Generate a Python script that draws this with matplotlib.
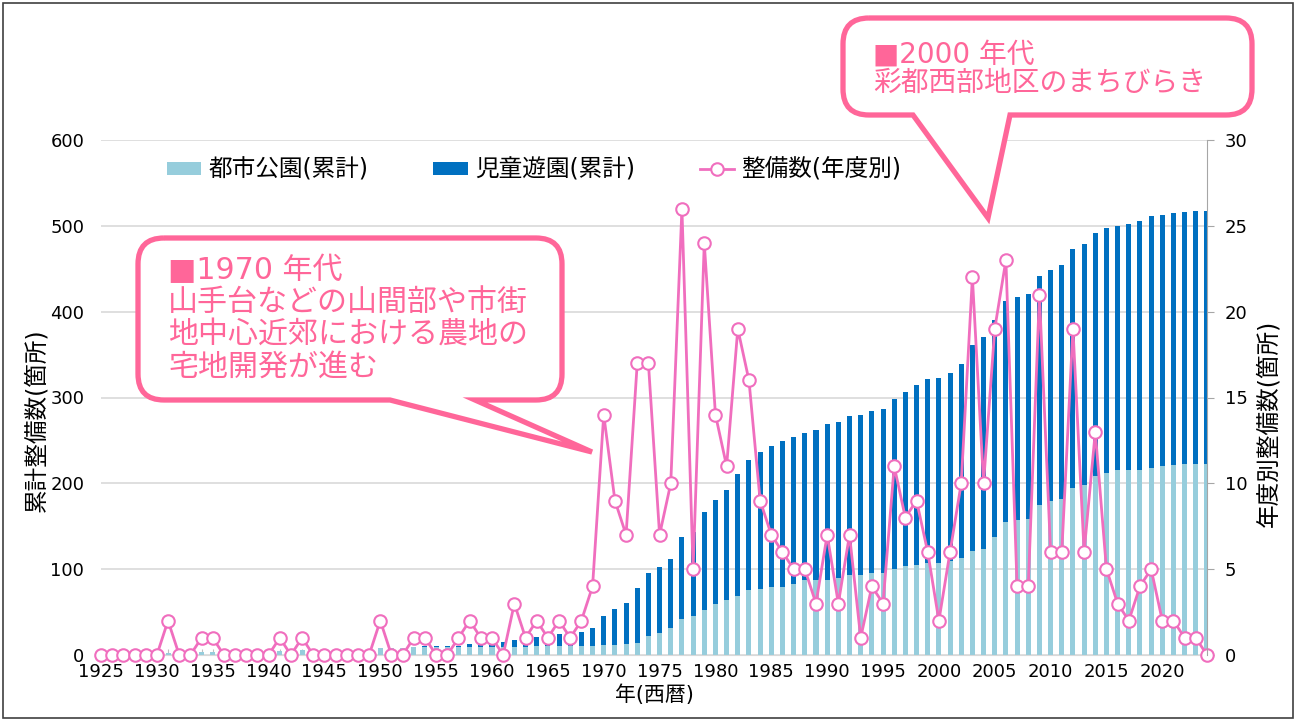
import numpy as np
import matplotlib.pyplot as plt
from matplotlib.path import Path
from matplotlib.patches import PathPatch, Rectangle

plt.rcParams['font.family'] = ['DejaVu Sans', 'Noto Sans CJK JP']

years = np.arange(1925, 2025)

# 年度別整備数
annual = [0, 0, 0, 0, 0, 0, 2, 0, 0, 1,
          1, 0, 0, 0, 0, 0, 1, 0, 1, 0,
          0, 0, 0, 0, 0, 2, 0, 0, 1, 1,
          0, 0, 1, 2, 1, 1, 0, 3, 1, 2,
          1, 2, 1, 2, 4, 14, 9, 7, 17, 17,
          7, 10, 26, 5, 24, 14, 11, 19, 16, 9,
          7, 6, 5, 5, 3, 7, 3, 7, 1, 4,
          3, 11, 8, 9, 6, 2, 6, 10, 22, 10,
          19, 23, 4, 4, 21, 6, 6, 19, 6, 13,
          5, 3, 2, 4, 5, 2, 2, 1, 1, 0]

# 都市公園(累計)
parks = [0, 0, 0, 0, 0, 0,
         2, 2, 2, 3, 4, 4, 4, 4, 4, 4,
         5, 5, 6, 6, 6, 6, 6, 6, 6, 8,
         8, 8, 9, 9, 9, 9, 9, 9, 9, 9,
         9, 9, 9, 10, 10, 11, 11, 11, 11, 12,
         12, 13, 14, 22, 26, 31, 42, 46, 52, 60,
         64, 69, 76, 77, 79, 79, 83, 87, 87, 87,
         90, 93, 93, 95, 95, 100, 104, 105, 107, 107,
         109, 113, 121, 123, 138, 155, 157, 158, 175, 179,
         182, 194, 198, 208, 212, 215, 215, 216, 218, 220,
         221, 222, 222, 222]

# 児童遊園(累計)
playgrounds = [0, 0, 0, 0, 0, 0,
               0, 0, 0, 0, 0, 0, 0, 0, 0, 0,
               0, 0, 0, 0, 0, 0, 0, 0, 0, 0,
               0, 0, 0, 1, 1, 1, 2, 4, 5, 6,
               6, 9, 10, 11, 12, 13, 14, 16, 20, 33,
               42, 48, 64, 73, 76, 81, 96, 97, 115, 121,
               128, 142, 151, 159, 164, 170, 171, 172, 175, 182,
               182, 186, 187, 189, 192, 198, 202, 210, 214, 216,
               220, 226, 240, 248, 252, 258, 260, 263, 267, 269,
               272, 279, 281, 284, 285, 285, 287, 290, 293, 293,
               294, 294, 295, 295]

LIGHT = '#96CDDC'
DARK = '#0070C0'
LINE = '#F06EBE'
PINK = '#FF6699'

W, H = 1297, 722
fig = plt.figure(figsize=(W / 100, H / 100), dpi=100)
ax = fig.add_axes([101 / W, 1 - 655 / H, 1106 / W, 515 / H])

b1 = ax.bar(years, parks, width=0.45, color=LIGHT, label='都市公園(累計)')
b2 = ax.bar(years, playgrounds, width=0.45, bottom=parks, color=DARK, label='児童遊園(累計)')
ax.set_xlim(1925, 2024)
ax.set_ylim(0, 600)
ax.set_yticks(range(0, 601, 100))
ax.set_xticks(years)
ax.set_xticklabels([str(y) if y % 5 == 0 else '' for y in years])
ax.tick_params(axis='x', direction='in', length=4, color='#BFBFBF', labelsize=13, pad=6)
ax.tick_params(axis='y', length=0, labelsize=13, pad=12)
ax.yaxis.grid(True, color='#D9D9D9', lw=1.2)
ax.set_axisbelow(True)
for s in ['top', 'left', 'right']:
    ax.spines[s].set_visible(False)
ax.spines['bottom'].set_color('#D9D9D9')
ax.set_xlabel('年(西暦)', fontsize=15, labelpad=2)
ax.set_ylabel('累計整備数(箇所)', fontsize=17)
ax.yaxis.set_label_coords(-0.048, 0.456)

ax2 = ax.twinx()
l1, = ax2.plot(years, annual, color=LINE, lw=2, marker='o', ms=9, mfc='white',
               mec=LINE, mew=1.5, clip_on=False, label='整備数(年度別)')
ax2.set_ylim(0, 30)
ax2.set_yticks(range(0, 31, 5))
for s in ['top', 'left', 'bottom']:
    ax2.spines[s].set_visible(False)
ax2.spines['right'].set_color('#A6A6A6')
ax2.tick_params(axis='y', length=5, color='#A6A6A6', labelsize=13, pad=8)
ax2.set_ylabel('年度別整備数(箇所)', fontsize=17)
ax2.yaxis.set_label_coords(1.045, 0.45)

ax.legend(handles=[b1, b2, l1], loc='center', bbox_to_anchor=(0.3915, 0.942), ncol=3,
          frameon=False, fontsize=17, handlelength=1.45, handleheight=0.5,
          columnspacing=2.75, handletextpad=0.3)


def callout(x0, y0, x1, y1, tb0, tb1, tip, r=26):
    pts = [(x0 + r, y0), (x1 - r, y0), (x1, y0), (x1, y0 + r), (x1, y1 - r),
           (x1, y1), (x1 - r, y1), (tb1, y1), tip, (tb0, y1), (x0 + r, y1),
           (x0, y1), (x0, y1 - r), (x0, y0 + r), (x0, y0), (x0 + r, y0)]
    codes = [Path.MOVETO, Path.LINETO, Path.CURVE3, Path.CURVE3, Path.LINETO,
             Path.CURVE3, Path.CURVE3, Path.LINETO, Path.LINETO, Path.LINETO,
             Path.LINETO, Path.CURVE3, Path.CURVE3, Path.LINETO, Path.CURVE3,
             Path.CURVE3]
    verts = [(px / W, 1 - py / H) for px, py in pts]
    fig.patches.append(PathPatch(Path(verts, codes), transform=fig.transFigure,
                                 facecolor='white', edgecolor=PINK, lw=3.8,
                                 joinstyle='miter', zorder=5))


callout(138, 238, 562, 400, 390, 475, (592, 452))
for txt, y in [('■1970 年代', 270), ('山手台などの山間部や市街', 302),
               ('地中心近郊における農地の', 335), ('宅地開発が進む', 367)]:
    fig.text(168 / W, 1 - y / H, txt, color=PINK, fontsize=21.6, va='center', ha='left', zorder=6)

callout(843, 18, 1252, 115, 913, 1010, (988, 218))
for txt, y in [('■2000 年代', 55), ('彩都西部地区のまちびらき', 83)]:
    fig.text(873 / W, 1 - y / H, txt, color=PINK, fontsize=20, va='center', ha='left', zorder=6)

fig.patches.append(Rectangle((3 / W, 1 - 718 / H), 1290 / W, 715 / H, transform=fig.transFigure,
                             fill=False, edgecolor='#404040', lw=1.2))

fig.savefig('out.png', dpi=100)
